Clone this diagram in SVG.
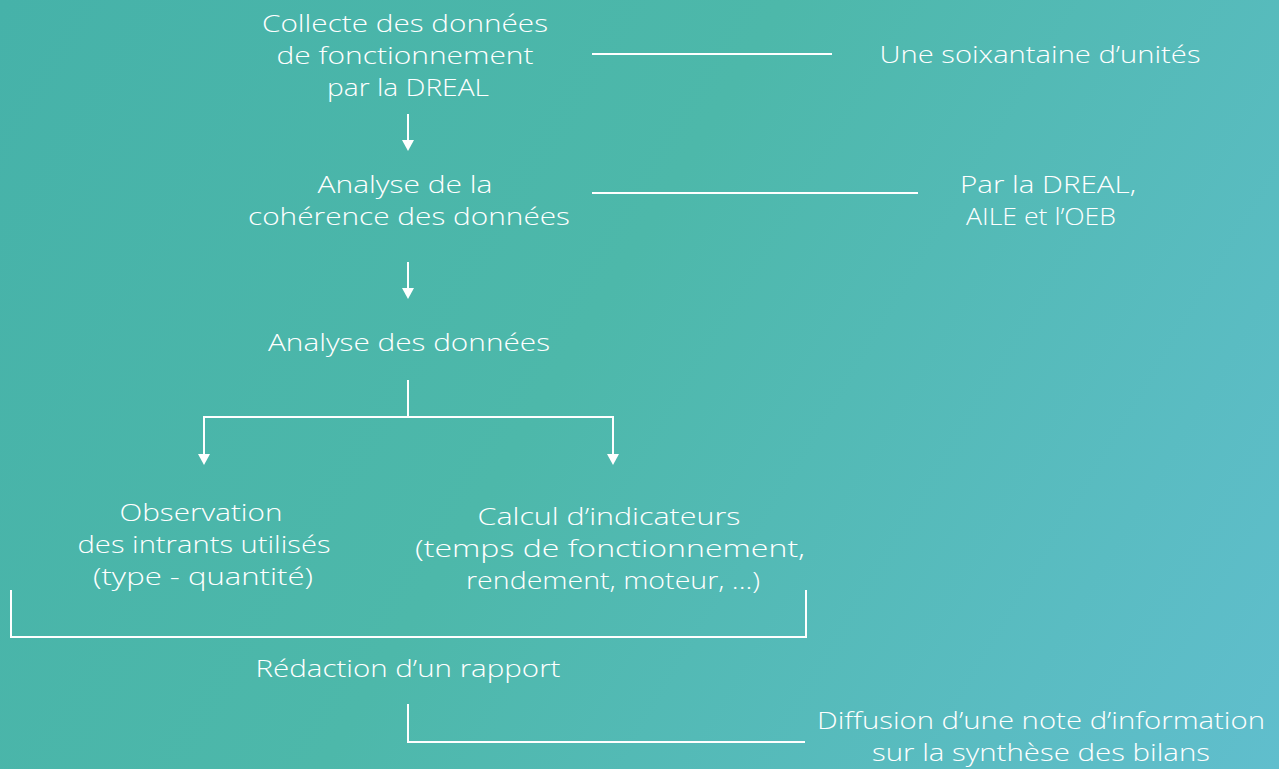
<svg xmlns="http://www.w3.org/2000/svg" width="1279" height="769" viewBox="0 0 1279 769">
<defs>
<linearGradient id="bg" x1="0" y1="0" x2="1279" y2="769" gradientUnits="userSpaceOnUse">
<stop offset="0" stop-color="#46b2a9"/>
<stop offset="0.45" stop-color="#4db8aa"/>
<stop offset="1" stop-color="#60becd"/>
</linearGradient>
<path id="head" d="M-6,-11 L6,-11 L0,0 z" fill="#fff"/>
</defs>
<style>
text{font-family:"Open Sans","Liberation Sans",sans-serif;font-weight:300;font-size:23.4px;fill:#fff;text-anchor:middle}
.c{stroke:#fff;stroke-width:2;fill:none}
</style>
<rect width="1279" height="769" fill="url(#bg)"/>
<g id="connectors">
<line class="c" x1="592" y1="54" x2="832" y2="54"/>
<line class="c" x1="592" y1="193" x2="918" y2="193"/>
<line class="c" x1="408" y1="114" x2="408" y2="142"/>
<use href="#head" x="408" y="151"/>
<line class="c" x1="408" y1="262" x2="408" y2="290"/>
<use href="#head" x="408" y="299"/>
<line class="c" x1="408" y1="380" x2="408" y2="417"/>
<polyline class="c" points="204,456 204,417 613,417 613,456"/>
<use href="#head" x="204" y="465"/>
<use href="#head" x="613" y="465"/>
<polyline class="c" points="11,590 11,637 806,637 806,590"/>
<polyline class="c" points="408,704 408,742 805,742"/>
</g>
<g id="n1"><text x="405" y="32" textLength="286" lengthAdjust="spacingAndGlyphs">Collecte des données</text><text x="405" y="64" textLength="257" lengthAdjust="spacingAndGlyphs">de fonctionnement</text><text x="408" y="96" textLength="162" lengthAdjust="spacingAndGlyphs">par la DREAL</text></g>
<g id="n1note"><text x="1040" y="63" textLength="321" lengthAdjust="spacingAndGlyphs">Une soixantaine d’unités</text></g>
<g id="n2"><text x="405" y="193" textLength="175" lengthAdjust="spacingAndGlyphs">Analyse de la</text><text x="409" y="225" textLength="322" lengthAdjust="spacingAndGlyphs">cohérence des données</text></g>
<g id="n2note"><text x="1048" y="193" textLength="176" lengthAdjust="spacingAndGlyphs">Par la DREAL,</text><text x="1041" y="225" textLength="150" lengthAdjust="spacingAndGlyphs">AILE et l’OEB</text></g>
<g id="n3"><text x="409" y="351" textLength="282" lengthAdjust="spacingAndGlyphs">Analyse des données</text></g>
<g id="n4"><text x="201" y="521" textLength="163" lengthAdjust="spacingAndGlyphs">Observation</text><text x="204" y="553" textLength="253" lengthAdjust="spacingAndGlyphs">des intrants utilisés</text><text x="203" y="585" textLength="220" lengthAdjust="spacingAndGlyphs">(type - quantité)</text></g>
<g id="n5"><text x="609" y="525" textLength="263" lengthAdjust="spacingAndGlyphs">Calcul d’indicateurs</text><text x="610" y="557" textLength="390" lengthAdjust="spacingAndGlyphs">(temps de fonctionnement,</text><text x="613" y="589" textLength="294" lengthAdjust="spacingAndGlyphs">rendement, moteur, ...)</text></g>
<g id="n6"><text x="408" y="677" textLength="305" lengthAdjust="spacingAndGlyphs">Rédaction d’un rapport</text></g>
<g id="n7"><text x="1041" y="729" textLength="448" lengthAdjust="spacingAndGlyphs">Diffusion d’une note d’information</text><text x="1041" y="761" textLength="338" lengthAdjust="spacingAndGlyphs">sur la synthèse des bilans</text></g>
</svg>
